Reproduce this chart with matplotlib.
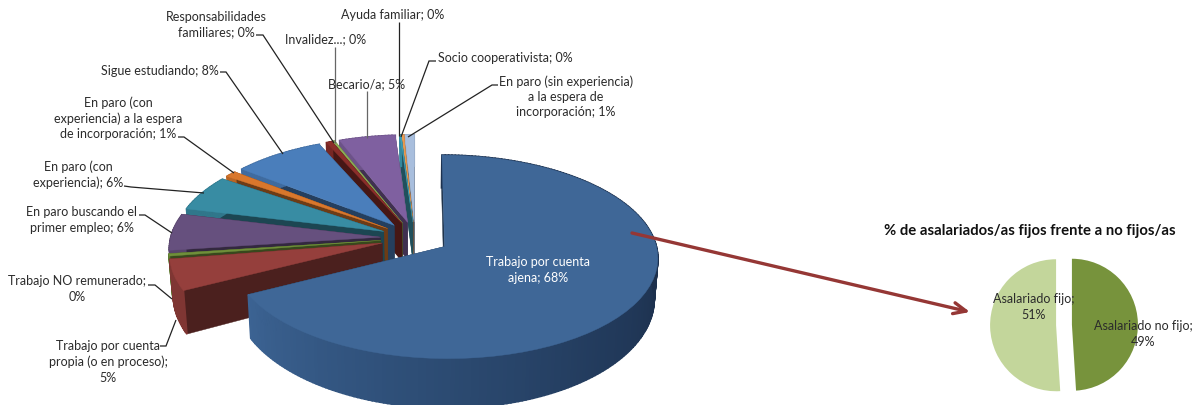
import numpy as np
import matplotlib
matplotlib.use("Agg")
import matplotlib.pyplot as plt
from matplotlib.colors import LinearSegmentedColormap, to_rgb
from matplotlib.transforms import Transform

plt.rcParams['font.family'] = ['Lato', 'DejaVu Sans']

W, H = 1195, 405

# ---- data ----
main_labels = ["Trabajo por cuenta ajena", "Trabajo por cuenta propia (o en proceso)",
               "Trabajo NO remunerado", "En paro buscando el primer empleo",
               "En paro (con experiencia)", "En paro (con experiencia) a la espera de incorporación",
               "Sigue estudiando", "Responsabilidades familiares", "Invalidez...",
               "Becario/a", "Ayuda familiar", "Socio cooperativista",
               "En paro (sin experiencia) a la espera de incorporación"]
main_values = [67.5, 5.0, 0.4, 5.9, 5.8, 1.0, 7.8, 0.5, 0.2, 4.8, 0.1, 0.2, 0.8]
main_colors = ["#3F6797", "#953F3C", "#6F8F3A", "#66507E", "#388CA3", "#D9772C", "#4A7EBB",
               "#8B2E2A", "#8DAE55", "#7F60A0", "#3FA0B8", "#E89A50", "#A8BEDD"]
small_labels = ["Asalariado no fijo", "Asalariado fijo"]
small_values = [49, 51]
small_colors = ["#77933C", "#C3D69B"]

CX, CY, A, B, K = 415, 238, 210, 99, 0.1   # pie placement in pixels, perspective
EXPLODE = 0.164
DEPTH = 0.38
TAPER = 0.985


class Persp(Transform):
    input_dims = output_dims = 2
    is_separable = False
    has_inverse = False

    def transform_non_affine(self, values):
        v = np.asarray(values, dtype=float)
        d = 1 + K * v[:, 1]
        return np.column_stack([v[:, 0] / d, v[:, 1] / d])


fig = plt.figure(figsize=(W / 100, H / 100), dpi=100)
ax = fig.add_axes([0, 0, 1, 1])
wedges, _ = ax.pie(main_values, startangle=90, counterclock=False,
                   explode=[EXPLODE] * len(main_values), colors=main_colors, radius=1)
ax.set_aspect('auto')
ax.set_xlim(-CX / A, (W - CX) / A)
ax.set_ylim((CY - H) / B, CY / B)
ax.axis('off')
trans = Persp() + ax.transData

big_wall = LinearSegmentedColormap.from_list(
    "w", [(0, "#3C6393"), (0.2, "#2F5079"), (0.42, "#233C5E"), (0.65, "#1B2E4A"), (1, "#1D3250")])


def darker(c, f):
    return tuple(v * f for v in to_rgb(c))


def low(x, y):
    return x * (1 + K * (y - DEPTH)) / (1 + K * y) * TAPER, y - DEPTH


def wall(x0, y0, x1, y1, c, lw, z):
    xb0, yb0 = low(x0, y0)
    xb1, yb1 = low(x1, y1)
    ax.fill([x0, x1, xb1, xb0], [y0, y1, yb1, yb0], color=c, lw=lw, zorder=z,
            transform=trans, clip_on=True)


z = 2
for i in range(len(wedges) - 1, -1, -1):
    w = wedges[i]
    cx, cy = w.center
    col = main_colors[i]
    cut = darker(col, 0.5)
    for th in (w.theta1, w.theta2):
        px = cx + w.r * np.cos(np.radians(th))
        py = cy + w.r * np.sin(np.radians(th))
        wall(cx, cy, px, py, cut, 0.3, z)
    z += 1
    n = max(2, int((w.theta2 - w.theta1) / 1.0))
    ths = np.linspace(w.theta1, w.theta2, n + 1)
    for a0, a1 in zip(ths[:-1], ths[1:]):
        xs = cx + w.r * np.cos(np.radians([a0, a1]))
        ys = cy + w.r * np.sin(np.radians([a0, a1]))
        if i == 0:
            t = np.clip(((a0 + a1) / 2 - w.theta1) / (w.theta2 - w.theta1), 0, 1)
            c = big_wall(t)
        else:
            c = darker(col, 0.85)
        wall(xs[0], ys[0], xs[1], ys[1], c, 1.2, z)
        z += 0.001
    z = np.ceil(z)
    w.set_transform(trans)
    w.set_zorder(z)
    w.set_edgecolor(col)
    w.set_linewidth(0.3)
    z += 1

ax.set_xlim(-CX / A, (W - CX) / A)
ax.set_ylim((CY - H) / B, CY / B)

# ---- small pie ----
R = 66
axs = fig.add_axes([(1064 - 85) / W, 1 - (325 + 75) / H, 170 / W, 150 / H])
axs.pie(small_values, startangle=90, counterclock=False, colors=small_colors,
        explode=[0.12, 0.12], radius=1)
axs.set_xlim(-85 / R, 85 / R)
axs.set_ylim(-75 / R, 75 / R)

# ---- texts / leaders in pixel coordinates ----
ov = fig.add_axes([0, 0, 1, 1], facecolor='none')
ov.set_xlim(0, W)
ov.set_ylim(H, 0)
ov.axis('off')

TC = "#2B2B2B"
FS = 9.0
LS = 1.32
texts = [
    (216, 25, "Responsabilidades\nfamiliares; 0%"),
    (326, 39, "Invalidez...; 0%"),
    (393, 15, "Ayuda familiar; 0%"),
    (505, 58, "Socio cooperativista; 0%"),
    (367, 84, "Becario/a; 5%"),
    (566, 97, "En paro (sin experiencia)\na la espera de\nincorporación; 1%"),
    (160, 71, "Sigue estudiando; 8%"),
    (118, 118, "En paro (con\nexperiencia) a la espera\nde incorporación; 1%"),
    (78, 175, "En paro (con\nexperiencia); 6%"),
    (82, 220, "En paro buscando el\nprimer empleo; 6%"),
    (77, 289, "Trabajo NO remunerado;\n0%"),
    (108, 362, "Trabajo por cuenta\npropia (o en proceso);\n5%"),
    (1034, 307, "Asalariado fijo;\n51%"),
    (1143, 334, "Asalariado no fijo;\n49%"),
]
for x, y, s in texts:
    ov.text(x, y, s, ha='center', va='center', fontsize=FS, color=TC, linespacing=LS)
ov.text(538, 270, "Trabajo por cuenta\najena; 68%", ha='center', va='center',
        fontsize=FS, color='white', linespacing=LS)
ov.text(1030, 231, "% de asalariados/as fijos frente a no fijos/as", ha='center', va='center',
        fontsize=10.7, fontweight='bold', color="#111111")

leaders = [
    ([256, 263, 334], [35, 35, 143], "#222222"),
    ([335, 335], [47, 143], "#666666"),
    ([367, 367], [91, 138], "#666666"),
    ([399, 399], [22, 136], "#222222"),
    ([436, 429, 401], [61, 61, 137], "#222222"),
    ([498, 492, 408], [85, 85, 137], "#222222"),
    ([220, 226, 283], [72, 72, 154], "#222222"),
    ([178, 184, 234], [137, 137, 173], "#222222"),
    ([124, 131, 204], [186, 187, 193], "#222222"),
    ([139, 145, 172], [215, 215, 233], "#222222"),
    ([148, 155, 172], [285, 285, 299], "#222222"),
    ([160, 166, 176], [346, 346, 320], "#222222"),
]
for xs, ys, c in leaders:
    ov.plot(xs, ys, color=c, lw=0.9, solid_capstyle='butt', solid_joinstyle='miter')

ov.annotate("", xy=(970, 312), xytext=(632, 233),
            arrowprops=dict(arrowstyle="->,head_length=0.9,head_width=0.4", color="#953735", lw=2.4,
                            shrinkA=0, shrinkB=0))

fig.savefig("out.png", dpi=100)
